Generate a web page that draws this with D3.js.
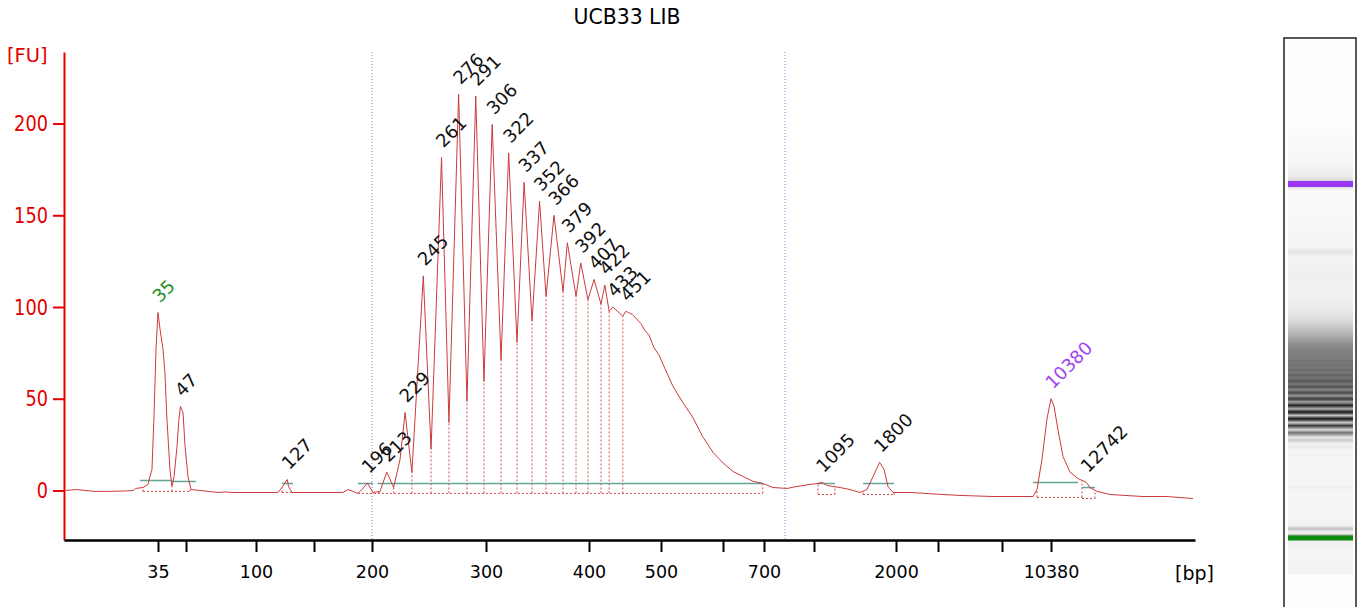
<!DOCTYPE html>
<html>
<head>
<meta charset="utf-8">
<script src="https://cdn.jsdelivr.net/npm/d3@7"></script>
<style>
  body { margin: 0; background: #fff; }
  svg { display: block; font-family: "DejaVu Sans", Verdana, sans-serif; }
</style>
</head>
<body>
<svg id="chart" width="1361" height="607"></svg>
<script>
// electropherogram trace (size in bp, signal in FU)
const traceBp = [10.5, 12, 13.5, 15.6, 18.2, 22, 26, 28.4, 29, 31, 32.3, 33.4, 33.9, 34.5, 35, 36.1, 37.7, 38.7, 39.8, 41.4,
  42.5, 43.6, 45.2, 46.2, 47, 48.4, 49.5, 51.4, 53.6, 60, 66, 72.9, 78, 83.6, 100, 119, 122.4, 127, 128, 131,
  150, 175, 179.3, 183.6, 187.9, 192, 196, 200.9, 207, 213, 219, 224.6, 229, 235, 245, 251.8, 261, 267.5, 276, 283.3,
  291, 298.2, 306, 314.6, 322, 330.1, 337, 344.7, 352, 358.3, 366, 374.8, 379, 387.4, 392, 399, 407, 416.7, 422, 428,
  433, 447, 451, 455, 460, 465, 472, 478, 483, 490, 497, 503, 519, 535, 551, 567, 584, 600, 624, 649,
  673, 697, 754, 838, 898, 976, 1049, 1095, 1160, 1317, 1439, 1561, 1646, 1720, 1800, 1854, 1902, 1963, 2333, 2690,
  3313, 4375, 6438, 9138, 9414, 9759, 10103, 10380, 10580, 10848, 11182, 11650, 12184, 12742, 12985, 13453, 14322, 16527, 18130, 19870];
const traceFu = [0, 0.3, 0.5, 0, -0.5, -0.5, -0.3, 0, 1.1, 1.6, 3.3, 11.5, 38.7, 78.5, 97, 87.8, 76.9, 64.3, 38.7, 11.5,
  2.2, 7.6, 24, 38.7, 45.8, 42.5, 24, 7.6, 0.5, 0, -0.5, -1.1, -0.8, -1.1, -1.1, -1.1, 1.6, 6, 2.2, -1.1,
  -1.1, -1.1, 0.5, -0.5, -1.6, 1, 4, -1.1, -0.5, 10, 1.6, 16.9, 42.5, 9.8, 117, 22.4, 181.5, 37, 216, 48.5,
  215, 59.4, 199.5, 71, 184, 80.7, 168, 92.2, 157.6, 105.8, 150, 108.5, 135, 105.8, 124, 104, 115, 101.5, 112, 97.6,
  100, 95, 97.6, 97, 96, 94, 91, 87, 85, 78, 74, 69, 57, 48, 40, 29.5, 20.7, 15, 10.4, 7.6,
  5, 3.8, 1.6, 1.1, 2.2, 3.3, 3.8, 4.4, 2.7, 1.6, 0.5, -1.1, 0.5, 7.6, 15.3, 11.5, 2.2, -1.1, -1.1, -1.6,
  -2.2, -2.7, -3.3, -3.3, 0.5, 17, 39, 50, 46, 33, 18.5, 10, 6.5, 4.4, 1.6, -0.5, -2.2, -3.3, -3.3, -4.4];

// called peaks
const peakLabel = ["35", "47", "127", "196", "213", "229", "245", "261", "276", "291", "306", "322", "337",
  "352", "366", "379", "392", "407", "422", "433", "451", "1095", "1800", "10380", "12742"];
const peakBp = [35, 47, 127, 196, 213, 229, 245, 261, 276, 291, 306, 322, 337,
  352, 366, 379, 392, 407, 422, 433, 451, 1095, 1800, 10380, 12742];
const peakFu = [97, 45.8, 6, 4, 10, 42.5, 117, 181.5, 216, 215, 199.5, 184, 168,
  157.6, 150, 135, 124, 115, 112, 100, 97.6, 4.4, 15.3, 50, 4.4];

// peak baselines (teal)
const baseFrom = [30.2, 42.5, 122.4, 187.9, 205, 1049, 1598, 9138, 12451];
const baseTo = [42.5, 57, 131.9, 200.9, 697, 1256, 1976, 12184, 13320];
const baseFu = [5.5, 4.9, 3.8, 3.8, 3.8, 3.8, 3.8, 4.4, 1.6];

// peak windows (dotted) and their boundaries
const winFrom = [31, 122.4, 187.9, 1049, 1598, 9414, 12451];
const winTo = [52.9, 131.9, 697, 1256, 1976, 12451, 13320];
const winFu = [-0.5, -1.1, -1.6, -2.2, -2.2, -3.8, -4.4];
const dropBp = [31, 42.5, 52.9, 122.4, 131.9, 187.9, 200.9, 206, 219, 235, 251.8, 267.5, 283.3, 298.2, 314.6,
  330.1, 344.7, 358.3, 374.8, 387.4, 399, 416.7, 428, 447, 697, 1049, 1256, 1598, 1976, 9414, 12451, 13320];
const dropFu = [1.6, 2.2, 1.5, 1.6, -1.1, -1.6, -1.1, -0.5, 1.6, 9.8, 22.4, 37, 48.5, 59.4, 71,
  80.7, 92.2, 105.8, 108.5, 105.8, 104, 101.5, 97.6, 95, 3.8, 3.8, 2.2, 0, -1.1, 0.5, 5.5, 0];

// region of interest
const regionBp = [200, 826];

// axes
const ladderBp = [10, 35, 50, 100, 150, 200, 300, 400, 500, 600, 700, 1000, 2000, 3000, 7000, 10380, 20000];
const bpTicks = [35, 50, 100, 150, 200, 300, 400, 500, 600, 700, 1000, 2000, 3000, 7000, 10380];
const bpLabelled = [35, 100, 200, 300, 400, 500, 700, 2000, 10380];
const fuTicks = [0, 50, 100, 150, 200];

const svg = d3.select("#chart");

// migration is not linear in size: piecewise scale through the ladder
var x = d3.scaleLinear()
  .domain(ladderBp)
  .range([64, 158, 186, 256, 314, 372, 486, 589, 661, 723, 764, 814, 896, 938, 1002, 1051, 1195]);
var y = d3.scaleLinear()
  .domain([-27, 239])
  .range([540, 52]);

var red = "#e30000";

// title
svg.append("text")
  .attr("x", 627).attr("y", 24)
  .attr("text-anchor", "middle")
  .attr("textLength", 107)
  .attr("lengthAdjust", "spacingAndGlyphs")
  .style("font-size", "22px")
  .text("UCB33 LIB");

// region lines
svg.selectAll("line.region")
  .data(regionBp)
  .enter()
  .append("line")
    .attr("class", "region")
    .attr("x1", d => x(d)).attr("x2", d => x(d))
    .attr("y1", y.range()[1]).attr("y2", y.range()[0])
    .attr("stroke", "#8a8ad8")
    .attr("stroke-dasharray", "1,2")

// peak windows
svg.selectAll("line.win")
  .data(winFrom)
  .enter()
  .append("line")
    .attr("x1", d => x(d))
    .attr("x2", (d, i) => x(winTo[i]))
    .attr("y1", (d, i) => y(winFu[i]))
    .attr("y2", (d, i) => y(winFu[i]))
    .attr("stroke", "#d24a4a")
    .attr("stroke-width", 1)
    .attr("stroke-dasharray", "2,2")

svg.selectAll("line.drop")
  .data(dropBp)
  .enter()
  .append("line")
    .attr("x1", d => x(d)).attr("x2", d => x(d))
    .attr("y1", function(d) {
      var k = winFrom.findIndex((f, i) => d >= f - 0.01 && d <= winTo[i] + 0.01);
      return y(k < 0 ? -1.6 : winFu[k]);
    })
    .attr("y2", (d, i) => y(dropFu[i]))
    .attr("stroke", "#d24a4a")
    .attr("stroke-width", 1)
    .attr("stroke-dasharray", "2,2")

// teal baselines
svg.selectAll("line.base")
  .data(baseFrom)
  .enter()
  .append("line")
    .attr("x1", d => x(d))
    .attr("x2", (d, i) => x(baseTo[i]))
    .attr("y1", (d, i) => y(baseFu[i]))
    .attr("y2", (d, i) => y(baseFu[i]))
    .attr("stroke", "#62a595")
    .attr("stroke-width", 1.5)

// trace
var line = d3.line()
  .x(d => x(d[0]))
  .y(d => y(d[1]));
svg.append("path")
  .datum(traceBp.map((b, i) => [b, traceFu[i]]))
  .attr("d", line)
  .attr("fill", "none")
  .attr("stroke", "#cc3a3a")
  .attr("stroke-width", 1)
  .attr("stroke-linejoin", "round")

// peak labels
svg.selectAll("text.peak")
  .data(peakBp)
  .enter()
  .append("text")
    .attr("transform", (d, i) => "translate(" + (x(d) + 2) + "," + (y(peakFu[i]) - 9) + ")rotate(-45)")
    .style("font-size", "18px")
    .style("fill", (d, i) => peakLabel[i] == "35" ? "#1f8f1f" : (peakLabel[i] == "10380" ? "#a244f2" : "#111"))
    .text((d, i) => peakLabel[i])

// y axis
var yAxis = d3.axisLeft(y)
  .tickValues(fuTicks)
  .tickSize(11)
  .tickSizeOuter(0)
  .tickPadding(5);
var gy = svg.append("g")
  .attr("transform", "translate(64,0)")
  .call(yAxis);
gy.select(".domain").attr("stroke", red).attr("stroke-width", 2);
gy.selectAll(".tick line").attr("stroke", red).attr("stroke-width", 2);
gy.selectAll(".tick text")
  .attr("fill", red)
  .attr("textLength", d => String(d).length * 11.3)
  .attr("lengthAdjust", "spacingAndGlyphs")
  .style("font-size", "22px")
  .style("font-family", "'DejaVu Sans', Verdana, sans-serif");

svg.append("text")
  .attr("x", 7).attr("y", 62)
  .style("font-size", "19.5px")
  .style("fill", red)
  .text("[FU]");

// x axis
var xAxis = d3.axisBottom(x)
  .tickValues(bpTicks)
  .tickSize(12)
  .tickSizeOuter(0)
  .tickPadding(14)
  .tickFormat(d => bpLabelled.indexOf(d) >= 0 ? d : "");
var gx = svg.append("g")
  .attr("transform", "translate(0,540)")
  .call(xAxis);
gx.select(".domain").attr("stroke", "#000").attr("stroke-width", 2.5);
gx.selectAll(".tick line").attr("stroke", "#000").attr("stroke-width", 2);
gx.selectAll(".tick text")
  .attr("fill", "#000")
  .style("font-size", "17.5px")
  .style("font-family", "'DejaVu Sans', Verdana, sans-serif");

svg.append("text")
  .attr("x", 1175).attr("y", 580)
  .style("font-size", "19px")
  .text("[bp]");

// gel lane: same run, position follows migration
var gelY = d3.scaleLinear()
  .domain([x(35), x(10380)])
  .range([538, 184]);
var gray = d3.scaleLinear()
  .domain([-5, 0, 15, 46, 100, 170, 216])
  .range(["#fdfdfd", "#f3f3f3", "#e4e4e4", "#c4c4c4", "#7c7c7c", "#474747", "#131313"])
  .clamp(true);

var laneX = 1288, laneW = 65;
var gBot = gelY(x(traceBp[0])), gTop = gelY(x(traceBp[traceBp.length - 1]));

var grad = svg.append("defs").append("linearGradient")
  .attr("id", "gel")
  .attr("gradientUnits", "userSpaceOnUse")
  .attr("x1", 0).attr("x2", 0)
  .attr("y1", gBot).attr("y2", gTop);
grad.selectAll("stop")
  .data(traceBp)
  .enter()
  .append("stop")
    .attr("offset", d => (gBot - gelY(x(d))) / (gBot - gTop))
    .attr("stop-color", (d, i) => gray(traceFu[i]));

svg.append("rect")
  .attr("x", laneX).attr("y", 38)
  .attr("width", laneW).attr("height", 580)
  .attr("fill", "#fdfdfd");
svg.append("rect")
  .attr("x", laneX).attr("y", gTop)
  .attr("width", laneW).attr("height", gBot - gTop)
  .attr("fill", "url(#gel)");

// marker bands
svg.append("rect")
  .attr("x", laneX).attr("y", gelY(x(35)) - 2.5)
  .attr("width", laneW).attr("height", 5)
  .attr("fill", "#0d8a0d");
svg.append("rect")
  .attr("x", laneX).attr("y", gelY(x(10380)) - 3)
  .attr("width", laneW).attr("height", 6)
  .attr("fill", "#9a36f2");

svg.append("rect")
  .attr("x", 1284).attr("y", 38)
  .attr("width", 72).attr("height", 600)
  .attr("fill", "none")
  .attr("stroke", "#222")
  .attr("stroke-width", 1.5);
</script>
</body>
</html>
